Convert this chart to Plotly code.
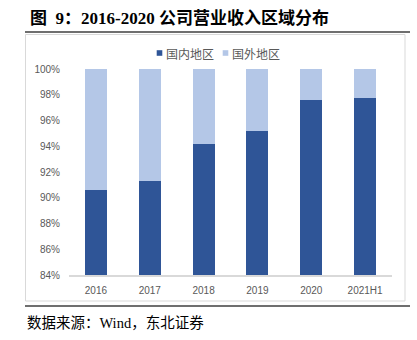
import plotly.graph_objects as go

categories = ["2016", "2017", "2018", "2019", "2020", "2021H1"]
domestic = [90.62, 91.32, 94.15, 95.19, 97.57, 97.73]
overseas = [9.38, 8.68, 5.85, 4.81, 2.43, 2.27]
series_names = ["国内地区", "国外地区"]
colors = ["#2F5597", "#B4C7E7"]
y_ticks = [84, 86, 88, 90, 92, 94, 96, 98, 100]
y_ticklabels = [f"{v}%" for v in y_ticks]

W, H = 417, 340
L, R, T, B = 69, 25, 69, 65
PW, PH = W - L - R, H - T - B


def px(x):
    return (x - L) / PW


def py(y):
    return (H - B - y) / PH


fig = go.Figure()
for name, vals, col in zip(series_names, [domestic, overseas], colors):
    fig.add_trace(go.Bar(x=categories, y=vals, name=name, marker_color=col,
                         marker_line_width=0, width=0.41, showlegend=False))

axis_font = dict(family="Liberation Sans, Arial, sans-serif", size=10, color="#595959")
fig.update_layout(
    width=W, height=H,
    margin=dict(l=L, r=R, t=T, b=B),
    barmode="stack",
    plot_bgcolor="white", paper_bgcolor="white",
    xaxis=dict(showline=True, linecolor="#D9D9D9", linewidth=1.5, showgrid=False,
               ticks="outside", ticklen=5, tickcolor="rgba(0,0,0,0)",
               tickfont=axis_font, fixedrange=True),
    yaxis=dict(range=[84, 100], tickvals=y_ticks, ticktext=y_ticklabels,
               showgrid=False, zeroline=False, showline=False,
               ticks="outside", ticklen=6, tickcolor="rgba(0,0,0,0)",
               tickfont=axis_font, fixedrange=True),
)

shapes = [
    dict(type="line", xref="paper", yref="paper", x0=px(25), x1=px(410), y0=py(32), y1=py(32),
         line=dict(color="#3F3F3F", width=1.5)),
    dict(type="rect", xref="paper", yref="paper", x0=px(25.5), x1=px(405), y0=py(34.5), y1=py(301),
         line=dict(color="#D9D9D9", width=1), layer="below"),
    dict(type="line", xref="paper", yref="paper", x0=px(25), x1=px(410), y0=py(306), y1=py(306),
         line=dict(color="#3F3F3F", width=1.5)),
]
annotations = [
    dict(text="<b>图&nbsp;&nbsp;9：2016-2020&nbsp;公司营业收入区域分布</b>", xref="paper", yref="paper",
         x=px(28), y=py(18), xanchor="left", yanchor="middle", showarrow=False,
         font=dict(family="Liberation Serif, Noto Sans CJK SC", size=17, color="#000000")),
    dict(text="数据来源：Wind，东北证券", xref="paper", yref="paper",
         x=px(25), y=py(323), xanchor="left", yanchor="middle", showarrow=False,
         font=dict(family="Liberation Serif, Noto Sans CJK SC", size=14.5, color="#000000")),
]
legend_x = [159.5, 225.5]
for name, col, lx in zip(series_names, colors, legend_x):
    shapes.append(dict(type="rect", xref="paper", yref="paper",
                       x0=px(lx - 2.8), x1=px(lx + 2.8), y0=py(53 - 2.8), y1=py(53 + 2.8),
                       fillcolor=col, line=dict(width=0)))
    annotations.append(dict(text=name, xref="paper", yref="paper", x=px(lx + 4), y=py(53),
                            xanchor="left", yanchor="middle", showarrow=False,
                            font=dict(family="Noto Sans CJK SC", size=12, color="#595959")))
fig.update_layout(shapes=shapes, annotations=annotations)
fig.write_html("out.html", config={"displayModeBar": False})
